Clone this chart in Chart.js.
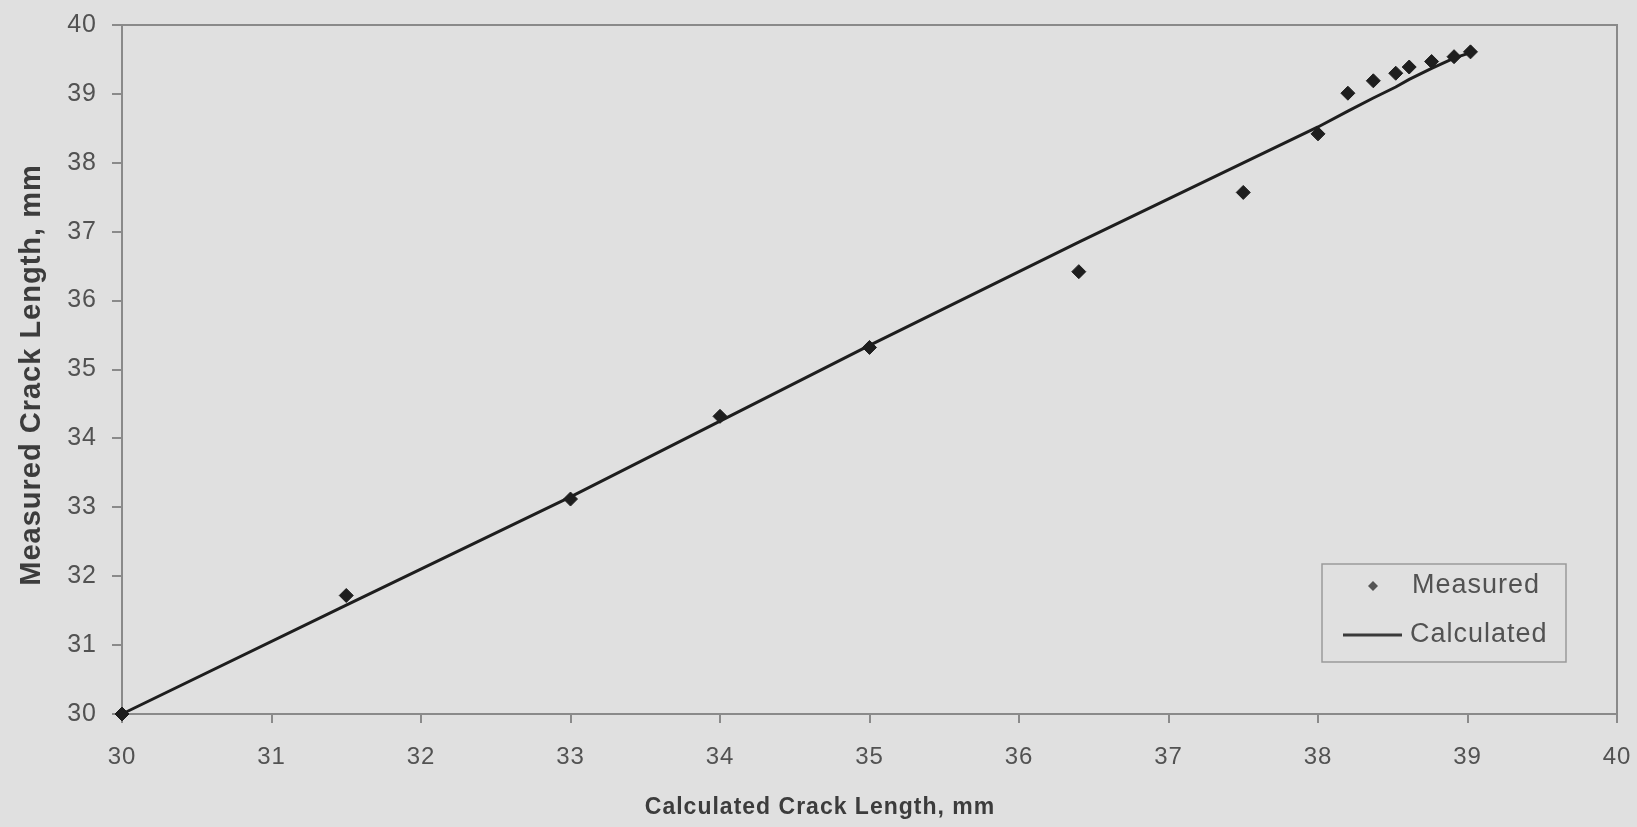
<!DOCTYPE html>
<html>
<head>
<meta charset="utf-8">
<script src="https://cdn.jsdelivr.net/npm/chart.js@4.4.1/dist/chart.umd.min.js"></script>
<style>
  html, body { margin: 0; padding: 0; background: #e0e0e0; }
  canvas { display: block; }
</style>
</head>
<body>
<canvas id="crackChart" width="1637" height="827"></canvas>
<script>
// Crack length comparison, all values in mm
const calcLength = [30, 31.5, 33, 34, 35, 36.4, 37.5, 38, 38.2, 38.37, 38.52, 38.61, 38.76, 38.91, 39.02];
const measuredLength = [30, 31.72, 33.12, 34.32, 35.32, 36.42, 37.57, 38.42, 39.01, 39.19, 39.30, 39.39, 39.47, 39.54, 39.61];
const calculatedLine = [30, 31.58, 33.15, 34.25, 35.35, 36.85, 38.0, 38.52, 38.75, 38.94, 39.10, 39.21, 39.37, 39.52, 39.60];
const seriesNames = ['Measured', 'Calculated'];
const xTitle = 'Calculated Crack Length, mm';
const yTitle = 'Measured Crack Length, mm';
const axisMin = 30;
const axisMax = 40;

const FONT = '"Liberation Sans", Arial, sans-serif';
const INK = '#1e1e1e';
const TEXT = '#525252';
const FRAME = '#8a8a8a';

const toPoints = (xs, ys) => xs.map((x, i) => ({ x: x, y: ys[i] }));

// slightly spaced lettering, like the old spreadsheet export
const spacing = {
    id: 'spacing',
    beforeDraw: (chart) => { chart.ctx.letterSpacing = '1px'; }
};

// box around the plot area
const plotFrame = {
    id: 'plotFrame',
    beforeDatasetsDraw: (chart) => {
        const { ctx, chartArea: a } = chart;
        ctx.save();
        ctx.strokeStyle = FRAME;
        ctx.lineWidth = 2;
        ctx.strokeRect(a.left, a.top, a.right - a.left, a.bottom - a.top);
        ctx.restore();
    }
};

// axis titles drawn by hand so they can sit off-centre
const axisTitles = {
    id: 'axisTitles',
    afterDraw: (chart) => {
        const ctx = chart.ctx;
        ctx.save();
        ctx.fillStyle = '#3c3c3c';
        ctx.textAlign = 'center';
        ctx.textBaseline = 'middle';
        ctx.font = 'bold 23px ' + FONT;
        ctx.fillText(xTitle, 820, 808);
        ctx.translate(32, 375);
        ctx.rotate(-Math.PI / 2);
        ctx.font = 'bold 29px ' + FONT;
        ctx.fillText(yTitle, 0, 0);
        ctx.restore();
    }
};

// legend box in the lower right of the plot
const boxLegend = {
    id: 'boxLegend',
    afterDraw: (chart) => {
        const { ctx, chartArea: a } = chart;
        const w = 244, h = 98;
        const left = a.right - 51 - w;
        const top = a.bottom - 52 - h;
        const sets = chart.data.datasets;
        ctx.save();
        ctx.fillStyle = '#e0e0e0';
        ctx.fillRect(left, top, w, h);
        ctx.strokeStyle = '#9a9a9a';
        ctx.lineWidth = 1.5;
        ctx.strokeRect(left, top, w, h);

        // marker sample
        const mx = left + 51, my = top + 22, r = 5;
        ctx.fillStyle = '#555';
        ctx.beginPath();
        ctx.moveTo(mx, my - r);
        ctx.lineTo(mx + r, my);
        ctx.lineTo(mx, my + r);
        ctx.lineTo(mx - r, my);
        ctx.closePath();
        ctx.fill();

        // line sample
        ctx.strokeStyle = '#3a3a3a';
        ctx.lineWidth = 3;
        ctx.beginPath();
        ctx.moveTo(left + 21, top + 71);
        ctx.lineTo(left + 80, top + 71);
        ctx.stroke();

        ctx.fillStyle = TEXT;
        ctx.font = '27px ' + FONT;
        ctx.textAlign = 'left';
        ctx.textBaseline = 'middle';
        ctx.fillText(sets[0].label, left + 90, my);
        ctx.fillText(sets[1].label, left + 88, top + 71);
        ctx.restore();
    }
};

// keep the plot box fixed regardless of tick label overhang
const noOverhang = (scale) => {
    scale.paddingLeft = 0;
    scale.paddingRight = 0;
    scale.paddingTop = 0;
    scale.paddingBottom = 0;
};

new Chart(document.getElementById('crackChart'), {
    type: 'scatter',
    data: {
        datasets: [{
            label: seriesNames[0],
            data: toPoints(calcLength, measuredLength),
            pointStyle: 'rectRot',
            pointRadius: 7,
            backgroundColor: INK,
            borderColor: INK,
            borderWidth: 1,
            showLine: false,
            clip: false
        }, {
            label: seriesNames[1],
            data: toPoints(calcLength, calculatedLine),
            showLine: true,
            pointRadius: 0,
            borderColor: INK,
            borderWidth: 3,
            tension: 0,
            clip: false
        }]
    },
    options: {
        responsive: false,
        animation: false,
        layout: { padding: { top: 25, right: 20, bottom: 0, left: 0 } },
        plugins: {
            legend: { display: false },
            tooltip: { enabled: false }
        },
        scales: {
            x: {
                type: 'linear',
                min: axisMin,
                max: axisMax,
                afterFit: (scale) => { scale.height = 113; noOverhang(scale); },
                ticks: { stepSize: 1, color: TEXT, font: { family: FONT, size: 24 }, padding: 20 },
                grid: { drawOnChartArea: false, drawTicks: true, tickLength: 9, color: FRAME, lineWidth: 2 },
                border: { display: true, color: FRAME, width: 2 }
            },
            y: {
                type: 'linear',
                min: axisMin,
                max: axisMax,
                afterFit: (scale) => { scale.width = 122; noOverhang(scale); },
                ticks: { stepSize: 1, color: TEXT, font: { family: FONT, size: 25 }, padding: 15 },
                grid: { drawOnChartArea: false, drawTicks: true, tickLength: 10, color: FRAME, lineWidth: 2 },
                border: { display: true, color: FRAME, width: 2 }
            }
        }
    },
    plugins: [spacing, plotFrame, axisTitles, boxLegend]
});
</script>
</body>
</html>
